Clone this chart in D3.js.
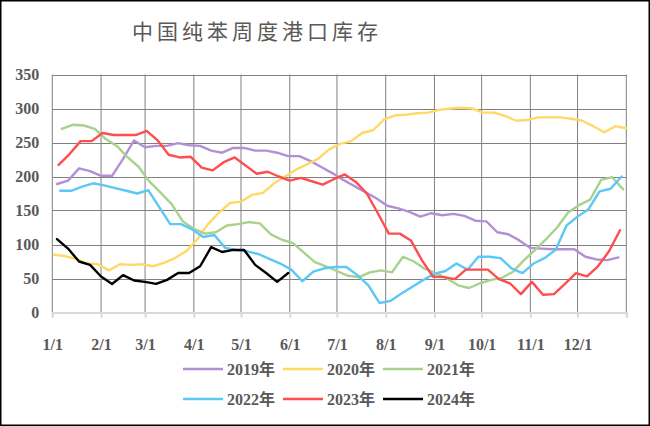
<!DOCTYPE html>
<html>
<head>
<meta charset="utf-8">
<script src="https://cdn.jsdelivr.net/npm/d3@7"></script>
<style>
  html, body { margin: 0; padding: 0; background: #fff; }
  svg { display: block; }
</style>
</head>
<body>
<svg id="chart" width="650" height="426"></svg>
<script>
// ---------- data ----------
const title = "中国纯苯周度港口库存";
const monthLabels = ["1/1","2/1","3/1","4/1","5/1","6/1","7/1","8/1","9/1","10/1","11/1","12/1"];
const yTicks = [0, 50, 100, 150, 200, 250, 300, 350];
const seriesNames = ["2019年","2020年","2021年","2022年","2023年","2024年"];
const seriesColors = ["#b190d4","#ffd966","#a9d18e","#5bc8f5","#ff4d4d","#000000"];
// first weekly observation (month, day) of each year
const startDays = [[1,4],[1,2],[1,7],[1,6],[1,5],[1,4]];

const v2019 = [189,194,212,208,201,201,226,253,243,245,245,249,246,245,238,235,242,242,238,238,
               235,230,230,223,214,205,195,186,177,168,157,153,148,141,146,143,145,142,135,134,
               118,115,106,95,94,93,93,93,82,78,77,81];
const v2020 = [85,83,79,72,71,62,71,70,71,68,73,80,90,107,130,147,161,163,173,176,
               190,200,210,218,226,240,248,252,264,268,284,290,291,293,294,298,300,301,300,294,
               294,289,282,283,287,287,287,285,282,274,265,274,271];
const v2021 = [270,276,275,270,255,245,228,214,192,176,159,134,123,116,118,128,130,133,131,115,
               107,102,88,74,68,61,54,52,59,62,59,82,75,64,58,50,40,36,43,48,
               51,60,77,92,108,125,147,158,166,195,199,181];
const v2022 = [179,179,185,190,187,183,179,175,180,155,130,130,122,111,114,95,92,90,86,79,
               72,63,46,60,65,67,67,55,40,14,17,28,38,48,57,61,72,63,82,82,
               80,65,58,72,80,92,128,141,152,178,182,200];
const v2023 = [217,233,252,252,264,261,261,261,267,253,232,228,229,213,209,221,228,216,204,207,
               200,194,198,193,188,196,203,192,175,146,116,116,106,77,53,52,49,63,63,63,
               49,43,27,45,26,27,42,58,53,68,90,121];
const v2024 = [108,94,75,70,53,42,55,47,45,42,48,58,58,68,96,89,92,92,70,58,45,58];

const allValues = [v2019, v2020, v2021, v2022, v2023, v2024];

// ---------- layout ----------
const W = 650, H = 426;
const plot = { left: 52.3, right: 626.3, top: 74.5, bottom: 312.5 };
const BASE_YEAR = 2001; // non-leap reference year for day-of-year positions
const labelFont = "'Liberation Serif','Times New Roman',serif";

const svg = d3.select("#chart");

svg.append("rect").attr("x", 0).attr("y", 0).attr("width", W).attr("height", H).attr("fill", "#fff");
svg.append("rect").attr("x", 0.75).attr("y", 0.75).attr("width", W - 1.5).attr("height", H - 1.5)
  .attr("fill", "none").attr("stroke", "#000").attr("stroke-width", 1.5);

const x = d3.scaleTime()
  .domain([new Date(BASE_YEAR, 0, 1), new Date(BASE_YEAR + 1, 0, 1)])
  .range([plot.left, plot.right]);
const y = d3.scaleLinear().domain([0, 350]).range([plot.bottom, plot.top]);

const monthDates = d3.range(12).map(m => new Date(BASE_YEAR, m, 1));
const vGridDates = monthDates.concat([new Date(BASE_YEAR + 1, 0, 1)]);

// title
svg.append("text")
  .attr("x", 132).attr("y", 30)
  .attr("dominant-baseline", "central")
  .attr("font-family", "'Noto Sans CJK SC', sans-serif")
  .attr("font-size", 21)
  .attr("letter-spacing", 4)
  .attr("fill", "#595959")
  .text(title);

// gridlines
const grid = svg.append("g");
grid.selectAll("line.h").data(yTicks.filter(d => d > 0)).join("line")
  .attr("x1", plot.left).attr("x2", plot.right)
  .attr("y1", d => Math.round(y(d)) + 0.5).attr("y2", d => Math.round(y(d)) + 0.5)
  .attr("stroke", "#808080").attr("stroke-width", 1);
grid.selectAll("line.v").data(vGridDates).join("line")
  .attr("x1", d => x(d)).attr("x2", d => x(d))
  .attr("y1", plot.top).attr("y2", plot.bottom)
  .attr("stroke", "#808080").attr("stroke-width", 1);

// y axis labels
const yAxis = svg.append("g")
  .attr("transform", `translate(${plot.left},0)`)
  .call(d3.axisLeft(y).tickValues(yTicks).tickSize(0).tickPadding(13));
yAxis.select(".domain").remove();
yAxis.selectAll("text")
  .attr("font-family", labelFont).attr("font-size", 16).attr("font-weight", "bold")
  .attr("fill", "#595959");

// x axis
const xAxis = svg.append("g")
  .attr("transform", `translate(0,${plot.bottom})`)
  .call(d3.axisBottom(x).tickValues(vGridDates).tickSize(5).tickPadding(21)
    .tickFormat((d, i) => i < monthLabels.length ? monthLabels[i] : ""));
xAxis.select(".domain").attr("stroke", "#d9d9d9").attr("stroke-width", 2.2);
xAxis.selectAll(".tick line").attr("stroke", "#d9d9d9").attr("stroke-width", 2);
xAxis.selectAll("text")
  .attr("font-family", labelFont).attr("font-size", 16).attr("font-weight", "bold")
  .attr("fill", "#595959");

// series lines
const line = d3.line().x(d => x(d.date)).y(d => y(d.value));
allValues.forEach((vals, k) => {
  const [m, dd] = startDays[k];
  const pts = vals.map((v, i) => ({ date: new Date(BASE_YEAR, m - 1, dd + 7 * i), value: v }));
  svg.append("path")
    .datum(pts)
    .attr("d", line)
    .attr("fill", "none")
    .attr("stroke", seriesColors[k])
    .attr("stroke-width", 2.4)
    .attr("stroke-linejoin", "round")
    .attr("stroke-linecap", "round");
});

// legend
const legend = svg.append("g");
seriesNames.forEach((name, k) => {
  const col = k % 3, row = Math.floor(k / 3);
  const lx = 183 + col * 100, ly = 369 + row * 30;
  legend.append("line")
    .attr("x1", lx).attr("x2", lx + 40).attr("y1", ly).attr("y2", ly)
    .attr("stroke", seriesColors[k]).attr("stroke-width", 2.4);
  legend.append("text")
    .attr("x", lx + 44).attr("y", ly)
    .attr("dominant-baseline", "central")
    .attr("font-family", labelFont + ",'Noto Sans CJK SC'")
    .attr("font-size", 16).attr("font-weight", "bold")
    .attr("fill", "#595959")
    .text(name);
});
</script>
</body>
</html>
